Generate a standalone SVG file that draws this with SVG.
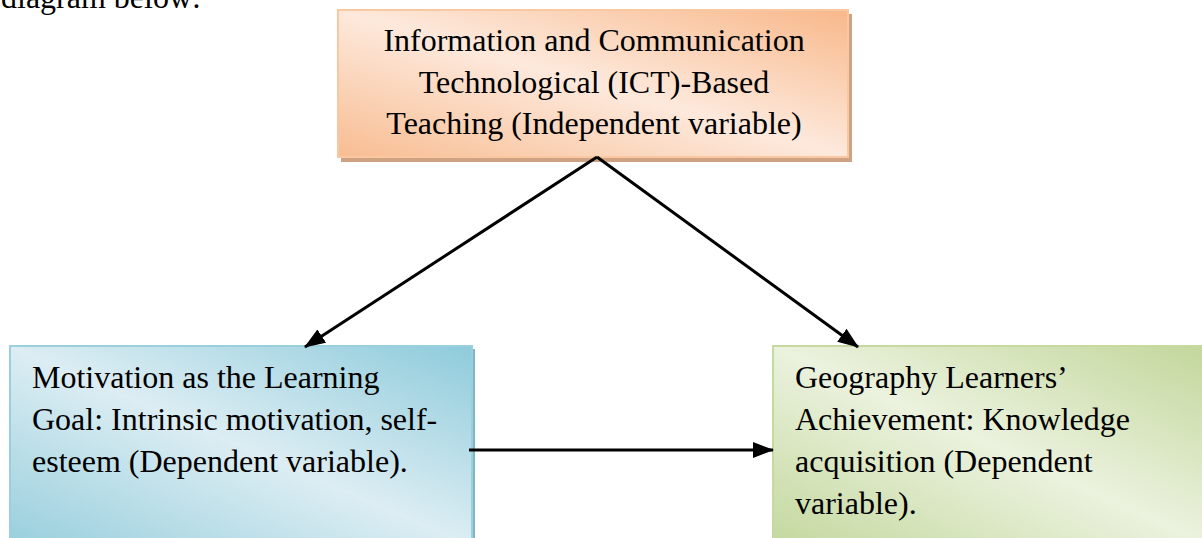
<svg xmlns="http://www.w3.org/2000/svg" width="1202" height="538" viewBox="0 0 1202 538">
  <style>
    .t { font-family: "Liberation Serif", "Times New Roman", serif; font-size: 32px; fill: #000; }
    .c { text-anchor: middle; }
    .conn { stroke: #000; stroke-width: 3; fill: none; marker-end: url(#arrow); }
  </style>
  <defs>
    <marker id="arrow" markerUnits="userSpaceOnUse" markerWidth="22" markerHeight="16" refX="20" refY="8" orient="auto">
      <path d="M0,0 L21,8 L0,16 Z" fill="#000"/>
    </marker>
    <linearGradient id="gOrange" x1="1" y1="0" x2="0" y2="1">
      <stop offset="0" stop-color="#f8b88a"/>
      <stop offset="0.5" stop-color="#fde9dc"/>
      <stop offset="1" stop-color="#f8bd92"/>
    </linearGradient>
    <linearGradient id="gBlue" x1="1" y1="0" x2="0" y2="1">
      <stop offset="0" stop-color="#8ecbdb"/>
      <stop offset="0.5" stop-color="#dcedf3"/>
      <stop offset="1" stop-color="#98cfdd"/>
    </linearGradient>
    <linearGradient id="gGreen" x1="1" y1="0" x2="0" y2="1">
      <stop offset="0" stop-color="#c2d69a"/>
      <stop offset="0.5" stop-color="#ebf2de"/>
      <stop offset="1" stop-color="#c4d89e"/>
    </linearGradient>
  </defs>
  <rect width="1202" height="538" fill="#fff"/>
  <text class="t" x="1" y="8">diagram below:</text>

  <g id="node-ict">
    <rect x="341" y="14" width="511" height="148" fill="#cfa283"/>
    <rect x="338" y="10" width="510" height="147" fill="url(#gOrange)" stroke="#fac8a0" stroke-width="2"/>
    <text class="t c" x="594" y="51">Information and Communication</text>
    <text class="t c" x="594" y="93">Technological (ICT)-Based</text>
    <text class="t c" x="594" y="134">Teaching (Independent variable)</text>
  </g>

  <g id="node-motivation">
    <rect x="13" y="349" width="462" height="200" fill="#7fb5c5"/>
    <rect x="10" y="346" width="462" height="200" fill="url(#gBlue)" stroke="#9ad0de" stroke-width="2"/>
    <text class="t" x="32" y="388">Motivation as the Learning</text>
    <text class="t" x="32" y="430">Goal: Intrinsic motivation, self-</text>
    <text class="t" x="32" y="472">esteem (Dependent variable).</text>
  </g>

  <g id="node-achievement">
    <rect x="776" y="349" width="440" height="200" fill="#a9bf84"/>
    <rect x="773" y="346" width="440" height="200" fill="url(#gGreen)" stroke="#c6da9f" stroke-width="2"/>
    <text class="t" x="795" y="388">Geography Learners’</text>
    <text class="t" x="795" y="430">Achievement: Knowledge</text>
    <text class="t" x="795" y="472">acquisition (Dependent</text>
    <text class="t" x="795" y="514">variable).</text>
  </g>

  <g id="connectors">
    <line class="conn" x1="597" y1="157" x2="305" y2="347"/>
    <line class="conn" x1="597" y1="157" x2="858" y2="347"/>
    <line class="conn" x1="469" y1="450" x2="773" y2="450"/>
  </g>
</svg>
